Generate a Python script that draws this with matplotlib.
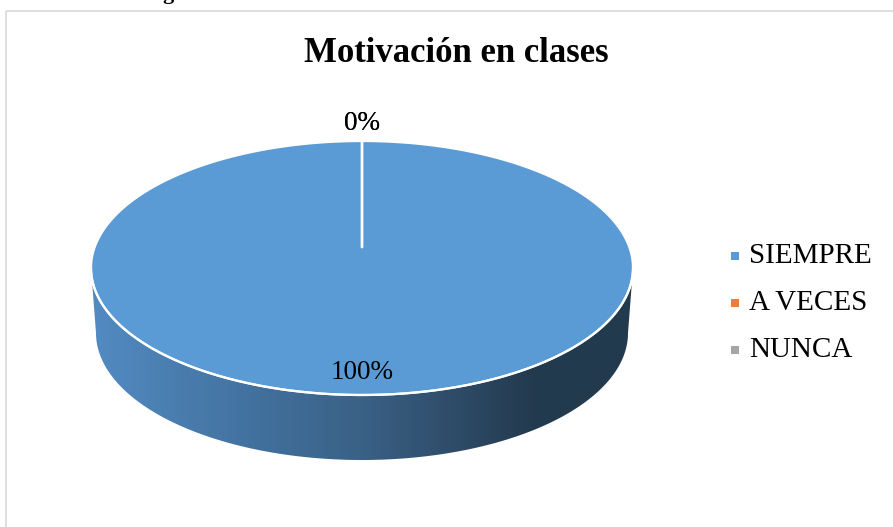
import numpy as np
import matplotlib
matplotlib.use("Agg")
import matplotlib.pyplot as plt
from matplotlib.patches import Polygon, Rectangle
from matplotlib.colors import LinearSegmentedColormap

title = "Motivación en clases"
categories = ["SIEMPRE", "A VECES", "NUNCA"]
values = [100, 0, 0]
colors = ["#5b9bd5", "#ed7d31", "#a5a5a5"]

W, H = 893, 527
fig = plt.figure(figsize=(W / 100, H / 100), dpi=100)
ax = fig.add_axes([0, 0, 1, 1])
ax.set_xlim(0, W)
ax.set_ylim(H, 0)
ax.axis("off")

serif = ["Liberation Serif", "DejaVu Serif"]

# chart area border and cut-off text above
ax.add_patch(Rectangle((5.5, 10.5), W, H, fill=False, edgecolor="#d9d9d9", lw=1.2))
ax.text(168, -1, "g", fontsize=16, fontweight="bold", family=serif,
        ha="center", va="baseline", color="black")

ax.text(456, 54, title, fontsize=25, fontweight="bold", family=serif,
        ha="center", va="center", color="black")

# 3D pie geometry (pixel units)
cx, cy = 362, 268      # ellipse center of top face
a, b = 271, 127        # semi-axes of top face
pcx, pcy = 362, 247    # projected pie center
depth = 65
a2 = 266

def top_pt(theta):
    return cx + a * np.cos(theta), cy - b * np.sin(theta)

# side face (front half)
t = np.linspace(np.pi, 2 * np.pi, 300)
xt, yt = top_pt(t)
xb = cx + a2 * np.cos(t[::-1])
yb = cy + depth - b * np.sin(t[::-1])
side = np.column_stack([np.r_[xt, xb], np.r_[yt, yb]])
side_poly = Polygon(side, closed=True, facecolor="none", edgecolor="none")
ax.add_patch(side_poly)
cmap = LinearSegmentedColormap.from_list(
    "side", [(0.0, "#528bc2"), (0.3, "#42719e"), (0.5, "#3a6186"),
             (0.7, "#2c4863"), (0.82, "#233a4e"), (1.0, "#223a4f")])
grad = np.linspace(0, 1, 256)[None, :]
im = ax.imshow(grad, cmap=cmap, extent=(cx - a, cx + a, cy + depth + b + 5, cy - 5),
               aspect="auto", zorder=1)
im.set_clip_path(side_poly)

# top face slices, clockwise from 12 o'clock
total = sum(values)
start = np.pi / 2
label_pts = []
for val, col in zip(values, colors):
    sweep = 2 * np.pi * val / total
    th = np.linspace(start, start - sweep, max(2, int(400 * val / total) + 2))
    ex, ey = top_pt(th)
    if val > 0:
        poly = np.column_stack([np.r_[pcx, ex, pcx], np.r_[pcy, ey, pcy]])
        ax.add_patch(Polygon(poly, closed=True, facecolor=col, edgecolor="white",
                             lw=1.6, zorder=2, joinstyle="miter"))
    else:
        ax.plot([pcx, ex[0]], [pcy, ey[0]], color="white", lw=1.6, zorder=3)
    mid = start - sweep / 2
    label_pts.append((mid, val))
    start -= sweep

# white rim along the front edge
ax.plot(xt, yt, color="white", lw=1.6, zorder=3)

zero_count = 0
for mid, val in label_pts:
    mx, my = top_pt(mid)
    if val > 0:
        lx = pcx + 0.85 * (mx - pcx)
        ly = pcy + 0.85 * (my - pcy)
    else:
        lx = mx - 0.2 + 0.4 * zero_count
        ly = my - 18
        zero_count += 1
    ax.text(lx, ly, f"{val/total*100:.0f}%", fontsize=19.5, family=serif,
            ha="center", va="center", color="black", zorder=4)

# legend
ly0, dy = 256, 47
for i, (cat, col) in enumerate(zip(categories, colors)):
    y = ly0 + i * dy
    ax.add_patch(Rectangle((731, y - 4), 8, 8, facecolor=col, edgecolor="none"))
    ax.text(749, y, cat, fontsize=21, family=serif, ha="left", va="center",
            color="black")

fig.savefig("out.png", dpi=100)
